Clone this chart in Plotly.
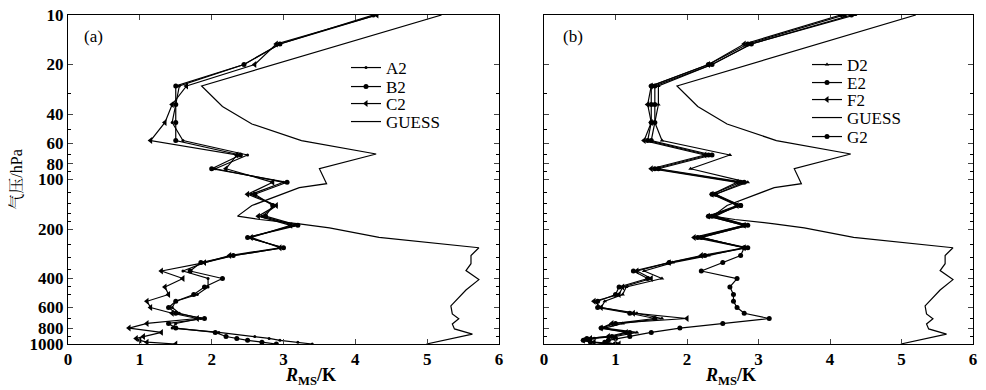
import plotly.graph_objects as go

# ---------------- data ----------------
levels = [10, 15, 20, 27, 35, 45, 58, 71, 86, 104, 123, 144, 167, 190, 225, 260, 290,
          320, 360, 400, 450, 500, 550, 600, 650, 700, 750, 800, 850, 900, 925, 950, 975, 1000]

a2 = [4.3, 2.95, 2.45, 1.55, 1.5, 1.45, 1.6, 2.5, 2.05, 3.0, 2.55, 2.9, 2.7, 3.15, 2.5, 3.0, 2.3,
      1.9, 1.6, 1.95, 1.95, 1.8, 1.5, 1.45, 1.55, 1.85, 1.5, 1.45, 2.1, 2.6, 2.8, 2.95, 3.2, 3.4]
b2 = [4.25, 2.95, 2.45, 1.5, 1.5, 1.5, 1.5, 2.4, 2.0, 3.05, 2.6, 2.85, 2.75, 3.2, 2.5, 3.0, 2.3,
      1.85, 1.7, 2.15, 1.9, 1.75, 1.5, 1.4, 1.5, 1.9, 1.4, 1.5, 2.05, 2.2, 2.35, 2.5, 2.7, 2.9]
c2 = [4.3, 2.9, 2.6, 1.65, 1.45, 1.35, 1.15, 2.35, 2.2, 2.85, 2.5, 2.9, 2.65, 3.1, 2.55, 2.95, 2.25,
      1.9, 1.3, 1.6, 1.35, 1.4, 1.1, 1.15, 1.45, 1.8, 1.1, 0.85, 1.3, 1.05, 0.95, 1.0, 1.1, 1.5]

d2 = [4.35, 2.9, 2.35, 1.6, 1.6, 1.55, 1.65, 2.6, 2.05, 2.85, 2.4, 2.7, 2.4, 2.85, 2.2, 2.8, 2.3,
      1.8, 1.4, 1.65, 1.15, 1.1, 0.85, 0.8, 1.3, 1.65, 1.1, 0.85, 1.3, 1.0, 0.7, 0.6, 0.7, 0.85]
e2 = [4.2, 2.85, 2.3, 1.5, 1.5, 1.5, 1.45, 2.3, 1.55, 2.75, 2.35, 2.75, 2.3, 2.8, 2.15, 2.85, 2.25,
      1.75, 1.25, 1.45, 1.05, 1.0, 0.75, 0.75, 1.2, 1.55, 1.0, 0.8, 1.2, 0.95, 0.6, 0.55, 0.65, 1.0]
f2 = [4.15, 2.8, 2.3, 1.5, 1.45, 1.5, 1.4, 2.25, 1.5, 2.7, 2.35, 2.7, 2.3, 2.8, 2.1, 2.8, 2.2,
      1.75, 1.3, 1.5, 1.1, 1.05, 0.7, 0.8, 1.25, 2.0, 0.95, 0.8, 1.15, 0.9, 0.65, 0.55, 0.7, 1.05]
g2 = [4.3, 2.9, 2.35, 1.55, 1.55, 1.55, 1.5, 2.35, 1.6, 2.8, 2.4, 2.75, 2.35, 2.85, 2.2, 2.8, 2.75,
      2.5, 2.2, 2.7, 2.6, 2.65, 2.65, 2.7, 2.8, 3.15, 2.5, 1.9, 1.5, 1.2, 1.0, 0.9, 0.85, 1.0]

guess_levels = [10, 27, 36, 46, 58, 70, 86, 106, 112, 144, 167, 175, 186, 197, 225, 260, 290,
                325, 358, 406, 470, 587, 656, 702, 755, 810, 870, 1000]
guess = [5.2, 1.86, 2.15, 2.56, 3.25, 4.29, 3.5, 3.6, 3.22, 2.56, 2.36, 2.67, 3.22, 3.64, 4.33,
         5.72, 5.61, 5.61, 5.54, 5.72, 5.54, 5.33, 5.35, 5.44, 5.35, 5.38, 5.63, 4.99]

x_ticks = [0, 1, 2, 3, 4, 5, 6]
y_ticks = [10, 20, 40, 60, 80, 100, 200, 400, 600, 800, 1000]
y_minor = [30, 50, 70, 90, 120, 140, 160, 180, 250, 300, 350, 450, 500, 700, 900]

# ---------------- layout geometry ----------------
# page body has an 8px default margin, so the figure is drawn 8px smaller
OFF = 8
W, H = 986 - OFF, 390 - OFF
ML, MT = 68 - OFF, 15 - OFF
MR = W - (973 - OFF)
MB = H - (344 - OFF)
PW, PH = W - ML - MR, H - MT - MB

def px(x):  # reference-screen pixel -> paper
    return (x - OFF - ML) / PW

def py(y):
    return (H - MB - (y - OFF)) / PH

serif = "Liberation Serif, Noto Serif CJK SC, Noto Sans CJK SC, serif"
fig = go.Figure()

def add(x, y, name, xa, ya, legend, symbol=None, size=5):
    mode = "lines+markers" if symbol else "lines"
    fig.add_trace(go.Scatter(
        x=x, y=y, name=name, xaxis=xa, yaxis=ya, legend=legend, mode=mode, showlegend=True,
        line=dict(color="black", width=1.2),
        marker=dict(symbol=symbol or "circle", size=size, color="black"),
    ))

add(a2, levels, "A2", "x", "y", "legend", "circle", 3)
add(b2, levels, "B2", "x", "y", "legend2", "circle", 5)
add(c2, levels, "C2", "x", "y", "legend3", "triangle-left", 6)
add(guess, guess_levels, "GUESS", "x", "y", "legend4")

add(d2, levels, "D2", "x2", "y2", "legend5", "triangle-up", 4)
add(e2, levels, "E2", "x2", "y2", "legend6", "circle", 5)
add(f2, levels, "F2", "x2", "y2", "legend7", "triangle-left", 6)
add(guess, guess_levels, "GUESS", "x2", "y2", "legend8")
add(g2, levels, "G2", "x2", "y2", "legend9", "circle", 5)

tickfont = dict(family=serif, size=17, color="black", weight="bold")

def xaxis(dom, anchor):
    return dict(domain=dom, anchor=anchor, range=[0, 6], tickmode="array", tickvals=x_ticks,
                ticks="inside", ticklen=5, mirror="allticks", showline=True, linecolor="black",
                linewidth=1, showgrid=False, zeroline=False, tickfont=tickfont, automargin=False,
                ticklabeloverflow="allow")

def yaxis(anchor, labels):
    return dict(domain=[0, 1], anchor=anchor, type="log", range=[3, 1], tickmode="array",
                tickvals=y_ticks, showticklabels=labels, ticklabeloverflow="allow",
                ticks="inside", ticklen=5, mirror="allticks", showline=True, linecolor="black",
                linewidth=1, showgrid=False, zeroline=False, tickfont=tickfont, automargin=False,
                minor=dict(tickmode="array", tickvals=y_minor, ticks="inside", ticklen=3,
                           tickcolor="black", showgrid=False),
                title=dict(text="气压/hPa" if labels else "",
                           font=dict(family=serif, size=16, color="#000000"), standoff=2))

def leg(xpix, ypix):
    return dict(x=px(xpix), y=py(ypix), xanchor="left", yanchor="middle", visible=True,
                bgcolor="rgba(0,0,0,0)", font=dict(family=serif, size=17, color="black"),
                itemwidth=30, itemsizing="trace")

xtitle = "<i>R</i><sub>MS</sub>/K"
xtfont = dict(family=serif, size=18, color="black", weight="bold")
layout = dict(
    width=W, height=H, margin=dict(l=ML, r=MR, t=MT, b=MB, autoexpand=False),
    paper_bgcolor="white", plot_bgcolor="white", showlegend=True,
    xaxis=xaxis([0, px(499)], "y"), yaxis=yaxis("x", True),
    xaxis2=xaxis([px(544), 1.0], "y2"), yaxis2=yaxis("x2", False),
    annotations=[
        dict(text="(a)", x=px(93), y=py(37), xref="paper", yref="paper", showarrow=False,
             xanchor="center", yanchor="middle", font=dict(family=serif, size=17, color="black")),
        dict(text="(b)", x=px(573), y=py(37), xref="paper", yref="paper", showarrow=False,
             xanchor="center", yanchor="middle", font=dict(family=serif, size=17, color="black")),
        dict(text=xtitle, x=px(283), y=py(376), xref="paper", yref="paper", showarrow=False,
             yanchor="middle", font=xtfont),
        dict(text=xtitle, x=px(758), y=py(376), xref="paper", yref="paper", showarrow=False,
             yanchor="middle", font=xtfont),
    ],
)
legA = [68, 87, 104, 122]
legB = [65, 83, 100, 118, 137]
for i, yy in enumerate(legA):
    layout["legend" if i == 0 else f"legend{i + 1}"] = leg(346, yy)
for i, yy in enumerate(legB):
    layout[f"legend{i + 5}"] = leg(807, yy)
fig.update_layout(**layout)

fig.write_html("out.html")
